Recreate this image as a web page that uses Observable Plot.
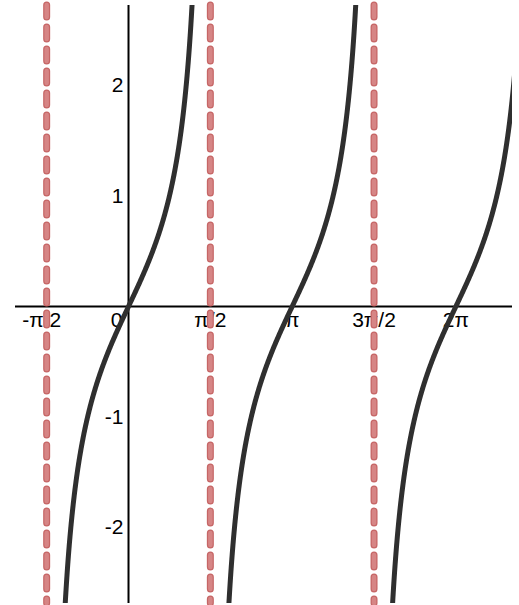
<!DOCTYPE html>
<html>
<head>
<meta charset="utf-8">
<script src="https://cdn.jsdelivr.net/npm/d3@7"></script>
<script src="https://cdn.jsdelivr.net/npm/@observablehq/plot@0.6"></script>
<style>
  html, body { margin: 0; padding: 0; background: #fff; }
  #chart svg { display: block; }
</style>
</head>
<body>
<div id="chart"></div>
<script>
const PI = Math.PI;

// Vertical asymptotes of y = tan x in view
const asymptotes = [-PI / 2, PI / 2, 3 * PI / 2];
// Each branch is centred on a zero of tan x
const branchCenters = [0, PI, 2 * PI];

// Axis ticks
const xTicks = [-PI / 2, 0, PI / 2, PI, 3 * PI / 2, 2 * PI];
const xTickLabels = ["-π/2", "0", "π/2", "π", "3π/2", "2π"];
const yTicks = [-2, -1, 1, 2];
const yTickLabels = ["-2", "-1", "1", "2"];

// Sample each branch of y = tan x by its inverse, x = c + atan(y)
const curve = [];
branchCenters.forEach((c, k) => {
  for (let i = 0; i <= 600; i++) {
    const y = -3.2 + 6.4 * i / 600;
    curve.push({branch: k, x: c + Math.atan(y), y});
  }
});

const xLabels = xTicks.map((v, i) => ({x: v, label: xTickLabels[i]}));
const yLabels = yTicks.map((v, i) => ({y: v, label: yTickLabels[i]}));

const font = "'Liberation Sans', Arial, sans-serif";
const labelStyle = {fontSize: 21, fill: "#000"};
const dash = {strokeDasharray: "12,10", strokeLinecap: "round"};

const chart = Plot.plot({
  width: 519,
  height: 605,
  marginTop: 5,
  marginBottom: 2,
  marginLeft: 15,
  marginRight: 7,
  x: {domain: [-2.169, 7.37], axis: null},
  y: {domain: [-2.688, 2.724], axis: null},
  style: {fontFamily: font, background: "#fff"},
  marks: [
    // tick labels along the x axis
    Plot.text(xLabels.filter(d => d.label !== "0" && d.label !== "-π/2"), {
      x: "x", y: 0, text: "label", dy: 14, textAnchor: "middle", ...labelStyle
    }),
    Plot.text(xLabels.filter(d => d.label === "-π/2"), {
      x: "x", y: 0, text: "label", dx: -5, dy: 14, textAnchor: "middle", ...labelStyle
    }),
    // the origin label sits left of the y axis
    Plot.text(xLabels.filter(d => d.label === "0"), {
      x: "x", y: 0, text: "label", dx: -6, dy: 14, textAnchor: "end", ...labelStyle
    }),
    // tick labels along the y axis
    Plot.text(yLabels, {
      x: 0, y: "y", text: "label", dx: -5, textAnchor: "end", ...labelStyle
    }),
    // axes through the origin
    Plot.ruleY([0], {stroke: "#000", strokeWidth: 2}),
    Plot.ruleX([0], {stroke: "#000", strokeWidth: 2}),
    // dashed asymptotes: darker rim, lighter core
    Plot.ruleX(asymptotes, {stroke: "#c66666", strokeWidth: 7, ...dash}),
    Plot.ruleX(asymptotes, {stroke: "#d68585", strokeWidth: 4.5, ...dash}),
    // tan x branches
    Plot.line(curve, {
      x: "x", y: "y", z: "branch",
      stroke: "#2f2f2f", strokeWidth: 5, clip: true, curve: "linear"
    })
  ]
});

document.getElementById("chart").appendChild(chart);
</script>
</body>
</html>
